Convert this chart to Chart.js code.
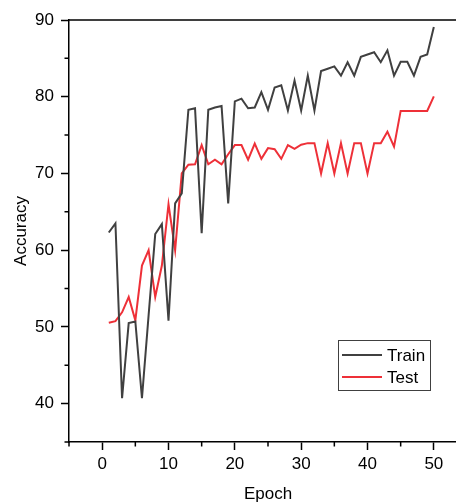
<!DOCTYPE html>
<html>
<head>
<meta charset="utf-8">
<script src="https://cdn.jsdelivr.net/npm/chart.js@4.4.1/dist/chart.umd.min.js"></script>
<style>
  html, body { margin: 0; padding: 0; background: #fff; overflow: hidden; }
  #wrap { width: 456px; height: 502px; overflow: hidden; }
</style>
</head>
<body>
<div id="wrap"><canvas id="accChart" width="480" height="505"></canvas></div>
<script>
// values
const epochs = [];
for (let e = 1; e <= 50; e++) epochs.push(e);

const trainAcc = [62.3, 63.5, 40.7, 50.5, 50.7, 40.7, 51.5, 62.1, 63.4, 50.8,
  66.1, 67.4, 78.3, 78.5, 62.2, 78.3, 78.6, 78.8, 66.1, 79.4,
  79.75, 78.5, 78.6, 80.6, 78.3, 81.2, 81.5, 78.2, 82.1, 78.2,
  82.75, 78.2, 83.35, 83.65, 83.95, 82.75, 84.5, 82.75, 85.2, 85.5,
  85.8, 84.5, 86.05, 82.75, 84.55, 84.55, 82.75, 85.2, 85.5, 89.1];

const testAcc = [50.55, 50.75, 51.9, 53.9, 50.85, 58.0, 60.0, 53.9, 58.0, 66.0,
  60.0, 70.0, 71.15, 71.2, 73.7, 71.2, 71.8, 71.2, 72.5, 73.7,
  73.7, 71.8, 73.9, 71.9, 73.3, 73.15, 71.9, 73.7, 73.2, 73.75,
  73.95, 73.95, 70.0, 73.95, 70.0, 73.95, 70.0, 73.95, 73.95, 70.0,
  73.95, 73.95, 75.45, 73.5, 78.15, 78.15, 78.15, 78.15, 78.15, 80.05];

const xMajor = [0, 10, 20, 30, 40, 50];
const xMinor = [-5, 5, 15, 25, 35, 45, 55];
const yMajor = [40, 50, 60, 70, 80, 90];
const yMinor = [35, 45, 55, 65, 75, 85];

Chart.defaults.font.family = "Arial, 'Liberation Sans', sans-serif";
Chart.defaults.font.size = 17;
Chart.defaults.color = '#000';

const trainColor = '#404040';
const testColor = '#ee3038';

function pts(vals) {
  return epochs.map((e, i) => ({ x: e, y: vals[i] }));
}

// minor ticks, top/right frame and the inner legend
const framePlugin = {
  id: 'frame',
  afterDraw(chart) {
    const ctx = chart.ctx;
    const a = chart.chartArea;
    const xs = chart.scales.x, ys = chart.scales.y;
    ctx.save();
    ctx.strokeStyle = '#000';
    ctx.lineWidth = 1.5;
    ctx.beginPath();
    ctx.moveTo(a.left, a.top);
    ctx.lineTo(a.right, a.top);
    ctx.lineTo(a.right, a.bottom);
    xMinor.forEach(v => {
      const px = xs.getPixelForValue(v);
      ctx.moveTo(px, a.bottom);
      ctx.lineTo(px, a.bottom + 4.5);
    });
    yMinor.forEach(v => {
      const py = ys.getPixelForValue(v);
      ctx.moveTo(a.left, py);
      ctx.lineTo(a.left - 4.5, py);
    });
    ctx.stroke();

    // legend box
    const bx = 338.5, by = 340.5, bw = 92, bh = 50;
    ctx.lineWidth = 1;
    ctx.strokeStyle = '#404040';
    ctx.strokeRect(bx, by, bw, bh);
    ctx.font = "17px Arial, 'Liberation Sans', sans-serif";
    ctx.textBaseline = 'middle';
    ctx.fillStyle = '#000';
    chart.data.datasets.forEach((ds, i) => {
      const ly = 355 + i * 22;
      ctx.strokeStyle = ds.borderColor;
      ctx.lineWidth = 2;
      ctx.beginPath();
      ctx.moveTo(342, ly);
      ctx.lineTo(382, ly);
      ctx.stroke();
      ctx.fillText(ds.label, 387, ly + 1);
    });
    ctx.restore();
  }
};

const canvas = document.getElementById('accChart');
new Chart(canvas, {
  type: 'line',
  data: {
    datasets: [
      { label: 'Train', data: pts(trainAcc), borderColor: trainColor, borderWidth: 2, pointRadius: 0, tension: 0 },
      { label: 'Test', data: pts(testAcc), borderColor: testColor, borderWidth: 2, pointRadius: 0, tension: 0 }
    ]
  },
  options: {
    responsive: false,
    animation: false,
    layout: { padding: { top: 20, right: 13, left: 0, bottom: 0 } },
    plugins: { legend: { display: false }, tooltip: { enabled: false } },
    scales: {
      x: {
        type: 'linear',
        min: -5,
        max: 55,
        afterBuildTicks(s) { s.ticks = xMajor.map(v => ({ value: v })); },
        afterFit(s) { s.height = 63; },
        grid: { drawOnChartArea: false, drawTicks: true, tickLength: 8, tickWidth: 1.5, tickColor: '#000' },
        border: { display: true, color: '#000', width: 1.5 },
        ticks: { padding: 4, maxRotation: 0, color: '#000' },
        title: { display: true, text: 'Epoch', padding: { top: 0, bottom: 0 }, color: '#000' }
      },
      y: {
        min: 35,
        max: 90,
        afterBuildTicks(s) { s.ticks = yMajor.map(v => ({ value: v })); },
        afterFit(s) { s.width = 69; },
        grid: { drawOnChartArea: false, drawTicks: true, tickLength: 8, tickWidth: 1.5, tickColor: '#000' },
        border: { display: true, color: '#000', width: 1.5 },
        ticks: { padding: 7, color: '#000' },
        title: { display: true, text: 'Accuracy', padding: { top: 11, bottom: 0 }, color: '#000' }
      }
    }
  },
  plugins: [framePlugin]
});
</script>
</body>
</html>
